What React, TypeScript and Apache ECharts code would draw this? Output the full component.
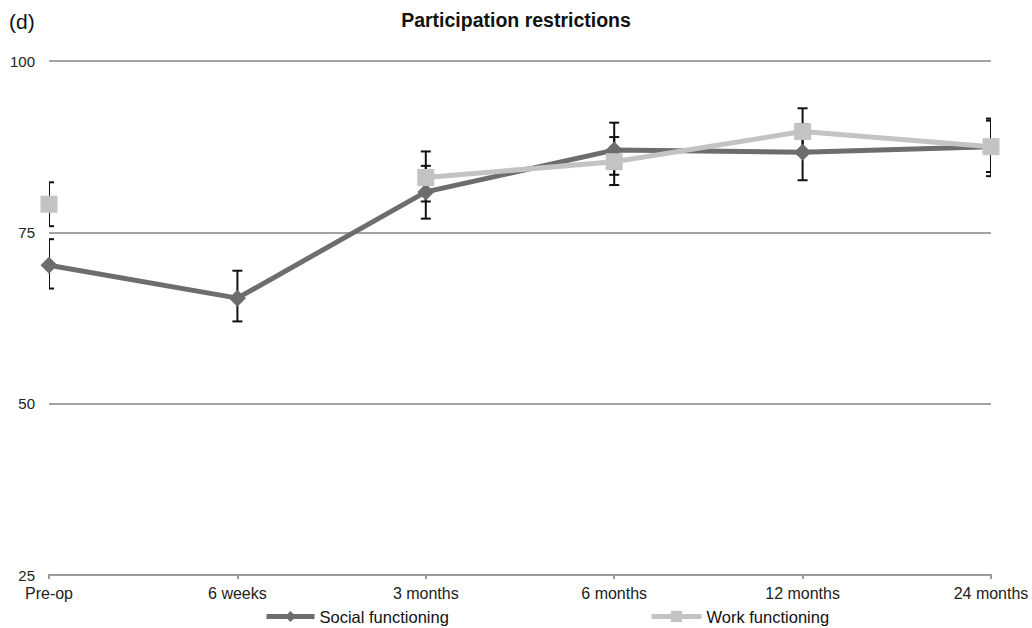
import React, { useEffect, useRef } from "react";
import * as echarts from "echarts";

const categories = ["Pre-op", "6 weeks", "3 months", "6 months", "12 months", "24 months"];
const yTicks = [25, 50, 75, 100];

const socialMean = [70.2, 65.4, 80.9, 87.0, 86.7, 87.5];
const socialLow = [66.8, 62.0, 77.0, 83.4, 82.6, 83.2];
const socialHigh = [74.0, 69.4, 84.7, 91.0, 90.8, 91.6];

const workMean = [79.1, null, 83.0, 85.3, 89.7, 87.5];
const workLow = [75.9, null, 79.5, 81.9, 86.3, 83.8];
const workHigh = [82.3, null, 86.8, 88.9, 93.1, 91.3];

const FONT = "'Liberation Sans', Arial, sans-serif";

function errorSeries(name: string, low: (number | null)[], high: (number | null)[], z: number) {
  const data = low
    .map((l, i) => (l == null || high[i] == null ? null : [i, l, high[i]]))
    .filter((d) => d !== null);
  return {
    name,
    type: "custom",
    z,
    clip: true,
    silent: true,
    data,
    renderItem: (params: any, api: any) => {
      const x = api.value(0);
      const lo = api.coord([x, api.value(1)]);
      const hi = api.coord([x, api.value(2)]);
      const half = 5;
      const style = { stroke: "#111", lineWidth: 2 };
      return {
        type: "group",
        children: [
          { type: "line", shape: { x1: lo[0], y1: lo[1], x2: hi[0], y2: hi[1] }, style },
          { type: "line", shape: { x1: hi[0] - half, y1: hi[1], x2: hi[0] + half, y2: hi[1] }, style },
          { type: "line", shape: { x1: lo[0] - half, y1: lo[1], x2: lo[0] + half, y2: lo[1] }, style },
        ],
      };
    },
  };
}

export default function App() {
  const ref = useRef<HTMLDivElement>(null);
  useEffect(() => {
    if (!ref.current) return;
    const chart = echarts.init(ref.current, undefined, { renderer: "svg" });
    chart.setOption({
      animation: false,
      backgroundColor: "#ffffff",
      title: [
        {
          text: "Participation restrictions",
          left: "center",
          top: 5,
          textStyle: { fontFamily: FONT, fontSize: 19.5, fontWeight: "bold", color: "#111" },
        },
        {
          text: "(d)",
          left: 4,
          top: 6,
          textStyle: { fontFamily: FONT, fontSize: 21, fontWeight: "normal", color: "#111" },
        },
      ],
      legend: [
        {
          data: ["Social functioning"],
          left: 259,
          top: 603,
          itemWidth: 48,
          itemHeight: 14,
          lineStyle: { width: 5 },
          textStyle: { fontFamily: FONT, fontSize: 16.5, color: "#111" },
        },
        {
          data: ["Work functioning"],
          left: 644,
          top: 603,
          itemWidth: 50,
          itemHeight: 14,
          lineStyle: { width: 5 },
          textStyle: { fontFamily: FONT, fontSize: 16.5, color: "#111" },
        },
      ],
      grid: { left: 49, right: 41, top: 61, bottom: 53 },
      xAxis: {
        type: "category",
        data: categories,
        boundaryGap: false,
        axisLine: { show: true, lineStyle: { color: "#9a9a9a", width: 2 } },
        axisTick: { show: true, length: 4, lineStyle: { color: "#9a9a9a", width: 2 } },
        axisLabel: { fontFamily: FONT, fontSize: 16, color: "#222", margin: 10 },
        splitLine: { show: false },
      },
      yAxis: {
        type: "value",
        min: yTicks[0],
        max: yTicks[yTicks.length - 1],
        interval: 25,
        axisLine: { show: false },
        axisTick: { show: false },
        axisLabel: { fontFamily: FONT, fontSize: 15, color: "#222", margin: 14 },
        splitLine: { show: true, lineStyle: { color: "#a3a3a3", width: 2 } },
      },
      series: [
        errorSeries("Social error", socialLow, socialHigh, 1),
        errorSeries("Work error", workLow, workHigh, 1),
        {
          name: "Social functioning",
          type: "line",
          z: 3,
          data: socialMean,
          symbol: "diamond",
          symbolSize: 17,
          lineStyle: { color: "#6d6d6d", width: 5 },
          itemStyle: { color: "#6d6d6d" },
        },
        {
          name: "Work functioning",
          type: "line",
          z: 4,
          data: workMean,
          connectNulls: false,
          symbol: "rect",
          symbolSize: 17,
          lineStyle: { color: "#c3c3c3", width: 5 },
          itemStyle: { color: "#c3c3c3" },
        },
      ],
    });
    return () => chart.dispose();
  }, []);
  return (
    <div
      ref={ref}
      style={{ position: "fixed", left: 0, top: 0, width: 1032, height: 628, background: "#fff" }}
    />
  );
}
